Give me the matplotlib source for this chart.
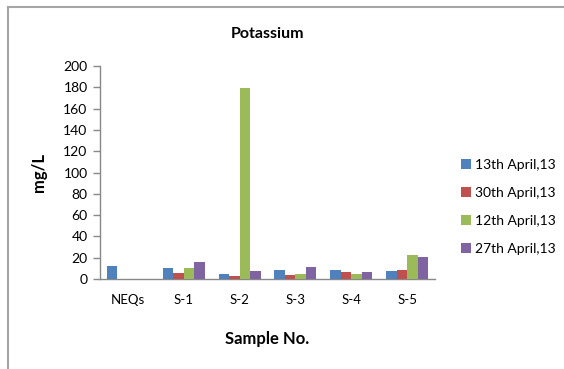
import matplotlib.pyplot as plt
import matplotlib.lines as mlines
import numpy as np

categories = ["NEQs", "S-1", "S-2", "S-3", "S-4", "S-5"]
series_names = ["13th April,13", "30th April,13", "12th April,13", "27th April,13"]
apr13 = [12.5, 10, 5, 8.8, 8.8, 7.5]
apr30 = [0, 5.3, 2.8, 4, 6.6, 8.8]
apr12 = [0, 10, 179, 5, 5, 23]
apr27 = [0, 16, 7.5, 11.5, 6.6, 20.6]
colors = ["#4F81BD", "#C0504D", "#9BBB59", "#8064A2"]

plt.rcParams['font.family'] = ['Lato', 'DejaVu Sans']

fig = plt.figure(figsize=(5.64, 3.69), dpi=100)
ax = fig.add_axes([100 / 564, 1 - 279 / 369, 335 / 564, 213 / 369])

x = np.arange(len(categories))
w = 0.188
for i, vals in enumerate([apr13, apr30, apr12, apr27]):
    ax.bar(x + (i - 1.5) * w, vals, w, color=colors[i], label=series_names[i], zorder=3)

ax.set_xlim(-0.5, len(categories) - 0.5)
ax.set_ylim(0, 200)
ax.set_yticks(range(0, 201, 20))
ax.set_xticks(x)
ax.set_xticklabels(categories)
ax.tick_params(axis='x', length=0, pad=11, labelsize=9.5)
ax.tick_params(axis='y', length=5, width=1, color="#888888", labelsize=10, pad=4)
for s in ["top", "right"]:
    ax.spines[s].set_visible(False)
for s in ["left", "bottom"]:
    ax.spines[s].set_color("#888888")
    ax.spines[s].set_linewidth(1)

ax.set_title("Potassium", fontsize=11.5, fontweight="bold", pad=20)
ax.set_ylabel("mg/L", fontsize=12, fontweight="bold", labelpad=12)
ax.set_xlabel("Sample No.", fontsize=12, fontweight="bold", labelpad=18)

ax.legend(loc="center left", bbox_to_anchor=(1.04, 0.34), frameon=False,
          fontsize=10, handlelength=0.7, handleheight=0.7, labelspacing=1.15,
          handletextpad=0.35)

# chart frame (top and left edges visible)
fig.add_artist(mlines.Line2D([8 / 564, 8 / 564], [0, 1 - 7 / 369], color="#a6a6a6", lw=1.5))
fig.add_artist(mlines.Line2D([8 / 564, 1], [1 - 7 / 369, 1 - 7 / 369], color="#a6a6a6", lw=1.5))

fig.savefig("out.png", dpi=100)
